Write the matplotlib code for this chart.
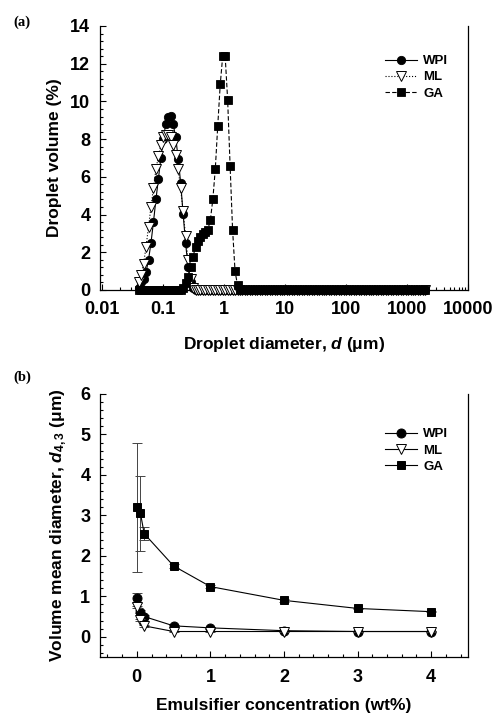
import matplotlib
matplotlib.use('Agg')
import matplotlib.pyplot as plt
from matplotlib.ticker import MultipleLocator, FixedLocator, LogLocator, NullFormatter

plt.rcParams['font.family'] = ['Liberation Sans', 'DejaVu Sans']
plt.rcParams['font.weight'] = 'bold'
plt.rcParams['mathtext.fontset'] = 'custom'
plt.rcParams['mathtext.it'] = 'Liberation Sans:bold:italic'
plt.rcParams['mathtext.rm'] = 'Liberation Sans:bold'
plt.rcParams['mathtext.bf'] = 'Liberation Sans:bold'

# (a) size classes of the analyser (um) and volume distributions (%)
size_um = [
    0.040, 0.0439, 0.0482, 0.0529, 0.0580, 0.0637, 0.0699, 0.0768, 0.0843, 0.0925,
    0.1015, 0.111, 0.122, 0.134, 0.147, 0.162, 0.178, 0.195, 0.214, 0.235,
    0.258, 0.283, 0.311, 0.342, 0.375, 0.412, 0.452, 0.496, 0.545, 0.598,
    0.657, 0.721, 0.791, 0.869, 0.954, 1.047, 1.149, 1.261, 1.385, 1.520,
    1.669, 1.832, 2.011, 2.207, 2.423, 2.660, 2.920, 3.205, 3.519, 3.863,
    4.240, 4.655, 5.110, 5.610, 6.158, 6.760, 7.421, 8.147, 8.943, 9.817,
    10.78, 11.83, 12.99, 14.26, 15.65, 17.18, 18.86, 20.71, 22.73, 24.95,
    27.39, 30.07, 33.01, 36.24, 39.78, 43.67, 47.94, 52.63, 57.77, 63.42,
    69.62, 76.43, 83.90, 92.10, 101.1, 111.0, 121.8, 133.7, 146.8, 161.2,
    176.9, 194.2, 213.2, 234.1, 256.9, 282.1, 309.6, 339.9, 373.1, 409.6,
    449.7, 493.6, 541.9, 594.9, 653.0, 716.9, 786.9, 863.9, 948.3, 1041,
    1143, 1255, 1377, 1512, 1660, 1822, 2000,
]
wpi_vol = [0.1, 0.4, 0.6, 0.95, 1.6, 2.5, 3.6, 4.8, 5.9, 7.0,
           8.0, 8.8, 9.2, 9.25, 8.8, 8.1, 6.95, 5.7, 4.05, 2.5,
           1.2, 0.45, 0.1] + [0.0] * 94
ml_vol = [0.4, 0.8, 1.4, 2.3, 3.35, 4.4, 5.4, 6.4, 7.1, 7.7,
          8.1, 8.2, 8.2, 8.1, 7.7, 7.15, 6.4, 5.4, 4.2, 2.85,
          1.6, 0.6, 0.1] + [0.0] * 94
ga_vol = [0.0] * 18 + [0.1, 0.35, 0.7, 1.2, 1.75, 2.3, 2.6, 2.8, 2.95, 3.05,
                       3.2, 3.7, 4.8, 6.4, 8.7, 10.9, 12.4, 12.4, 10.1, 6.6,
                       3.2, 1.0, 0.25, 0.05] + [0.0] * 75

# (b) volume mean diameter vs emulsifier concentration
conc_wt = [0, 0.05, 0.1, 0.5, 1, 2, 3, 4]
wpi_d43 = [0.95, 0.62, 0.50, 0.27, 0.22, 0.15, 0.13, 0.13]
wpi_err = [0.12, 0.03, 0.03, 0.02, 0.02, 0.01, 0.01, 0.01]
ml_d43 = [0.74, 0.41, 0.27, 0.13, 0.13, 0.13, 0.13, 0.13]
ml_err = [0.03, 0.02, 0.02, 0.01, 0.01, 0.01, 0.01, 0.01]
ga_d43 = [3.2, 3.05, 2.55, 1.75, 1.24, 0.90, 0.70, 0.62]
ga_err = [1.6, 0.92, 0.16, 0.04, 0.04, 0.03, 0.02, 0.02]

log_ticks = [0.01, 0.1, 1, 10, 100, 1000, 10000]
log_labels = ['0.01', '0.1', '1', '10', '100', '1000', '10000']

W, H = 497, 718
fig = plt.figure(figsize=(W / 100, H / 100), dpi=100)
ax1 = fig.add_axes([100 / W, 1 - 290 / H, 368 / W, 264 / H])
ax2 = fig.add_axes([100 / W, 1 - 657 / H, 368 / W, 263 / H])

tick_fs = 13
label_fs = 12.5
leg_fs = 9.5


def style_axis(ax):
    ax.spines['top'].set_visible(False)
    for s in ('left', 'bottom', 'right'):
        ax.spines[s].set_linewidth(0.9)
    ax.tick_params(which='both', direction='in', top=False, right=False, width=0.8)
    ax.tick_params(which='major', length=4, labelsize=tick_fs, pad=7)
    ax.tick_params(which='minor', length=2)


# panel (a)
ax1.plot(size_um, wpi_vol, '-', color='black', lw=0.8, marker='o', ms=6,
         mfc='black', mec='black', mew=0.6, clip_on=False, label='WPI', zorder=3)
ax1.plot(size_um, ml_vol, ':', color='black', lw=0.8, marker='v', ms=6.5,
         mfc='white', mec='black', mew=0.7, clip_on=False, label='ML', zorder=4)
ax1.plot(size_um, ga_vol, '--', color='black', lw=0.8, dashes=(4, 2), marker='s', ms=5.5,
         mfc='black', mec='black', mew=0.6, clip_on=False, label='GA', zorder=5)
ax1.set_xscale('log')
ax1.set_xlim(0.0093, 10000)
ax1.set_ylim(0, 14)
ax1.xaxis.set_major_locator(FixedLocator(log_ticks))
ax1.set_xticklabels(log_labels)
ax1.xaxis.set_minor_locator(LogLocator(base=10, subs=range(2, 10), numticks=20))
ax1.xaxis.set_minor_formatter(NullFormatter())
ax1.yaxis.set_major_locator(MultipleLocator(2))
ax1.yaxis.set_minor_locator(MultipleLocator(0.4))
style_axis(ax1)
ax1.tick_params(axis='x', which='major', pad=8)
ax1.set_xlabel('Droplet diameter, $\\mathit{d}$ (μm)', fontsize=label_fs, fontweight='bold', labelpad=12)
ax1.set_ylabel('Droplet volume (%)', fontsize=label_fs, fontweight='bold', labelpad=6)
ax1.legend(loc='upper left', bbox_to_anchor=(0.76, 0.91), frameon=False, fontsize=leg_fs,
           handlelength=2.4, handletextpad=0.5, labelspacing=0.3, borderaxespad=0)

# panel (b)
for y, err, mk, fc, name in ((wpi_d43, wpi_err, 'o', 'black', 'WPI'),
                             (ml_d43, ml_err, 'v', 'white', 'ML'),
                             (ga_d43, ga_err, 's', 'black', 'GA')):
    ms = 6 if mk == 's' else 6.5
    ax2.errorbar(conc_wt, y, yerr=err, fmt='none', ecolor='#444444', elinewidth=0.7,
                 capsize=3.5, capthick=0.7)
    ax2.plot(conc_wt, y, '-', color='black', lw=0.8, marker=mk, ms=ms, mfc=fc,
             mec='black', mew=0.7, label=name)
ax2.set_xlim(-0.5, 4.5)
ax2.set_ylim(-0.5, 6)
ax2.xaxis.set_major_locator(MultipleLocator(1))
ax2.xaxis.set_minor_locator(MultipleLocator(0.2))
ax2.yaxis.set_major_locator(MultipleLocator(1))
ax2.yaxis.set_minor_locator(MultipleLocator(0.2))
style_axis(ax2)
ax2.tick_params(axis='x', which='major', pad=9)
ax2.set_xlabel('Emulsifier concentration (wt%)', fontsize=label_fs, fontweight='bold', labelpad=8)
ax2.set_ylabel('Volume mean diameter, $\\mathit{d}_{\\mathrm{4,3}}$ (μm)', fontsize=label_fs,
               fontweight='bold', labelpad=8)
ax2.legend(loc='upper left', bbox_to_anchor=(0.76, 0.89), frameon=False, fontsize=leg_fs,
           handlelength=2.4, handletextpad=0.5, labelspacing=0.3, borderaxespad=0)

fig.text(13 / W, 1 - 22 / H, '(a)', family='Liberation Serif', fontweight='bold', fontsize=10.5, va='center')
fig.text(13 / W, 1 - 377 / H, '(b)', family='Liberation Serif', fontweight='bold', fontsize=10.5, va='center')

fig.savefig('out.png', dpi=100)
